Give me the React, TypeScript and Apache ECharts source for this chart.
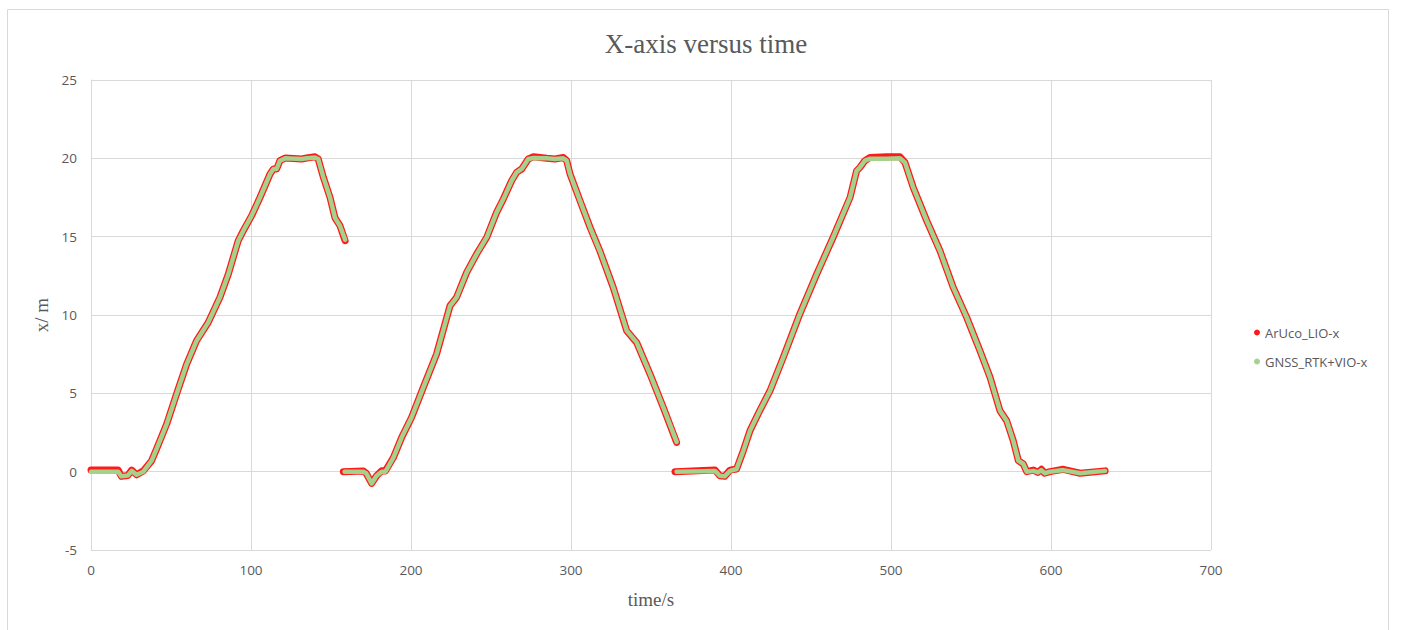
import React, { useEffect, useRef } from "react";
import * as echarts from "echarts";

const xTicks = [0, 100, 200, 300, 400, 500, 600, 700];
const yTicks = [-5, 0, 5, 10, 15, 20, 25];

// ArUco_LIO-x : three recorded runs [time s, x m]
const arucoRun1: [number, number][] = [
  [0, 0.1], [17, 0.1], [19, -0.3], [23, -0.25], [25.4, 0.1], [28.5, -0.2], [32.7, 0.05],
  [37.9, 0.7], [41, 1.45], [47.3, 3.04], [53.5, 4.96], [59.8, 6.87], [66, 8.36], [73.3, 9.53],
  [80.6, 11.13], [85.8, 12.6], [92, 14.74], [95.2, 15.38], [100.4, 16.34], [105.6, 17.5],
  [111.9, 19.0], [114, 19.32], [116, 19.32], [118.1, 19.85], [121.3, 20.02], [131.7, 19.96],
  [134.8, 20.02], [140, 20.1], [142, 19.96], [145.2, 18.8], [149.4, 17.5], [152.5, 16.2],
  [155.6, 15.7], [158.8, 14.74],
];
const arucoRun2: [number, number][] = [
  [157.7, 0.0], [170.2, 0.05], [172, -0.1], [175.4, -0.75], [178.5, -0.26], [181.7, 0.06],
  [184, 0.05], [189, 0.9], [194.2, 2.19], [200.4, 3.47], [207.7, 5.38], [216, 7.51],
  [224.4, 10.59], [228.5, 11.13], [234.8, 12.72], [241, 13.89], [247.3, 14.95], [253.5, 16.55],
  [257.7, 17.4], [262.9, 18.57], [266, 19.1], [269.2, 19.32], [273.3, 19.96], [276.5, 20.1],
  [284.8, 20.0], [290, 19.96], [295.2, 20.05], [297.3, 19.85], [299.4, 19.0], [305.6, 17.3],
  [311.9, 15.6], [318, 14.1], [326.4, 11.76], [334.8, 9.0], [341, 8.25], [349.4, 6.23],
  [357.7, 4.1], [366, 1.87],
];
const arucoRun3: [number, number][] = [
  [365, 0.0], [390, 0.1], [393, -0.26], [396, -0.3], [399.4, 0.1], [403.5, 0.17],
  [407.7, 1.34], [411.9, 2.62], [418, 3.9], [424.4, 5.17], [432.7, 7.3], [443, 10.06],
  [453.5, 12.6], [463.8, 14.95], [474.4, 17.5], [478.5, 19.2], [480.6, 19.42], [483.7, 19.85],
  [486.9, 20.06], [497.3, 20.1], [505.6, 20.1], [508.7, 19.74], [513.9, 18.14], [522.3, 16.02],
  [530.6, 14.1], [538.9, 11.76], [547.3, 9.85], [555.6, 7.72], [561.9, 6.02], [568.1, 3.89],
  [572.3, 3.25], [576.4, 1.98], [579.6, 0.7], [582.7, 0.49], [584.8, 0.0], [589, 0.1],
  [591.8, -0.05], [594, 0.15], [596, -0.1], [599.4, 0.0], [607.7, 0.15], [618.2, -0.1],
  [633.8, 0.05],
];

// GNSS_RTK+VIO-x : three recorded runs [time s, x m]
const gnssRun1: [number, number][] = [
  [0, 0.0], [17, 0.0], [19, -0.3], [23, -0.25], [25.4, 0.05], [28.5, -0.2], [32.7, 0.0],
  [37.9, 0.7], [41, 1.45], [47.3, 3.04], [53.5, 4.96], [59.8, 6.87], [66, 8.36], [73.3, 9.53],
  [80.6, 11.13], [85.8, 12.6], [92, 14.74], [95.2, 15.38], [100.4, 16.34], [105.6, 17.5],
  [111.9, 19.0], [114, 19.32], [116, 19.32], [118.1, 19.85], [121.3, 20.0], [131.7, 19.96],
  [134.8, 20.0], [140, 20.05], [142, 19.96], [145.2, 18.8], [149.4, 17.5], [152.5, 16.2],
  [155.6, 15.7], [158.8, 14.8],
];
const gnssRun2: [number, number][] = [
  [158.5, 0.0], [170.2, 0.0], [172, -0.1], [175.4, -0.75], [178.5, -0.26], [181.7, 0.0],
  [184, 0.0], [189, 0.9], [194.2, 2.19], [200.4, 3.47], [207.7, 5.38], [216, 7.51],
  [224.4, 10.59], [228.5, 11.13], [234.8, 12.72], [241, 13.89], [247.3, 14.95], [253.5, 16.55],
  [257.7, 17.4], [262.9, 18.57], [266, 19.1], [269.2, 19.32], [273.3, 19.96], [276.5, 20.02],
  [284.8, 20.0], [290, 19.96], [295.2, 20.0], [297.3, 19.85], [299.4, 19.0], [305.6, 17.3],
  [311.9, 15.6], [318, 14.1], [326.4, 11.76], [334.8, 9.0], [341, 8.25], [349.4, 6.23],
  [357.7, 4.1], [366, 1.9],
];
const gnssRun3: [number, number][] = [
  [366, 0.0], [390, 0.05], [393, -0.26], [396, -0.3], [399.4, 0.05], [403.5, 0.17],
  [407.7, 1.34], [411.9, 2.62], [418, 3.9], [424.4, 5.17], [432.7, 7.3], [443, 10.06],
  [453.5, 12.6], [463.8, 14.95], [474.4, 17.5], [478.5, 19.2], [480.6, 19.42], [483.7, 19.85],
  [486.9, 19.98], [497.3, 19.98], [505.6, 20.0], [508.7, 19.74], [513.9, 18.14], [522.3, 16.02],
  [530.6, 14.1], [538.9, 11.76], [547.3, 9.85], [555.6, 7.72], [561.9, 6.02], [568.1, 3.89],
  [572.3, 3.25], [576.4, 1.98], [579.6, 0.7], [582.7, 0.49], [584.8, 0.0], [589, 0.05],
  [591.8, -0.05], [594, 0.1], [596, -0.1], [599.4, 0.0], [607.7, 0.1], [618.2, -0.1],
  [633.8, 0.05],
];

const RED = "#ff1a1a";
const GREEN = "#a6d18a";
const GRAY = "#d9d9d9";
const TEXT = "#595959";

export default function App() {
  const ref = useRef<HTMLDivElement>(null);
  useEffect(() => {
    document.body.style.margin = "0";
    if (!ref.current) return;
    const chart = echarts.init(ref.current, null, { renderer: "svg" });
    const redRun = (d: [number, number][]) => ({
      name: "ArUco_LIO-x",
      type: "line",
      data: d,
      showSymbol: false,
      smooth: false,
      itemStyle: { color: RED },
      lineStyle: { color: RED, width: 7, cap: "round", join: "round" },
      z: 2,
    });
    const greenRun = (d: [number, number][]) => ({
      name: "GNSS_RTK+VIO-x",
      type: "line",
      data: d,
      showSymbol: false,
      itemStyle: { color: GREEN },
      lineStyle: { color: GREEN, width: 4.5, cap: "round", join: "round" },
      z: 3,
    });
    chart.setOption({
      animation: false,
      backgroundColor: "#ffffff",
      title: {
        text: "X-axis versus time",
        left: 701,
        textAlign: "center",
        top: 25,
        textStyle: {
          fontFamily: "Liberation Serif",
          fontSize: 27,
          fontWeight: "normal",
          color: TEXT,
        },
      },
      graphic: [
        {
          type: "rect",
          shape: { x: 7.5, y: 9.5, width: 1381, height: 640 },
          style: { fill: "none", stroke: GRAY, lineWidth: 1 },
          silent: true,
        },
      ],
      legend: {
        orient: "vertical",
        left: 1249,
        top: 321,
        itemGap: 16,
        itemWidth: 6,
        itemHeight: 6,
        icon: "circle",
        textStyle: { fontFamily: "Open Sans", fontSize: 13, color: TEXT },
        data: [
          { name: "ArUco_LIO-x", itemStyle: { color: RED } },
          { name: "GNSS_RTK+VIO-x", itemStyle: { color: GREEN } },
        ],
      },
      grid: { left: 91, right: 193, top: 80, bottom: 80, containLabel: false },
      xAxis: {
        type: "value",
        min: xTicks[0],
        max: xTicks[xTicks.length - 1],
        interval: 100,
        name: "time/s",
        nameLocation: "middle",
        nameGap: 40,
        nameTextStyle: { fontFamily: "Liberation Serif", fontSize: 19, color: TEXT },
        axisLine: { show: true, lineStyle: { color: GRAY } },
        axisTick: { show: false },
        axisLabel: { color: TEXT, fontFamily: "Open Sans", fontSize: 13.5, margin: 13 },
        splitLine: { show: true, lineStyle: { color: GRAY } },
      },
      yAxis: {
        type: "value",
        min: yTicks[0],
        max: yTicks[yTicks.length - 1],
        interval: 5,
        name: "x/ m",
        nameLocation: "middle",
        nameRotate: 90,
        nameGap: 38,
        nameTextStyle: { fontFamily: "Liberation Serif", fontSize: 19, color: TEXT },
        axisLine: { show: true, lineStyle: { color: GRAY } },
        axisTick: { show: false },
        axisLabel: { color: TEXT, fontFamily: "Open Sans", fontSize: 13.5, margin: 14 },
        splitLine: { show: true, lineStyle: { color: GRAY } },
      },
      series: [
        redRun(arucoRun1),
        redRun(arucoRun2),
        redRun(arucoRun3),
        greenRun(gnssRun1),
        greenRun(gnssRun2),
        greenRun(gnssRun3),
      ],
    });
    return () => chart.dispose();
  }, []);
  return <div ref={ref} style={{ width: 1404, height: 630 }} />;
}
